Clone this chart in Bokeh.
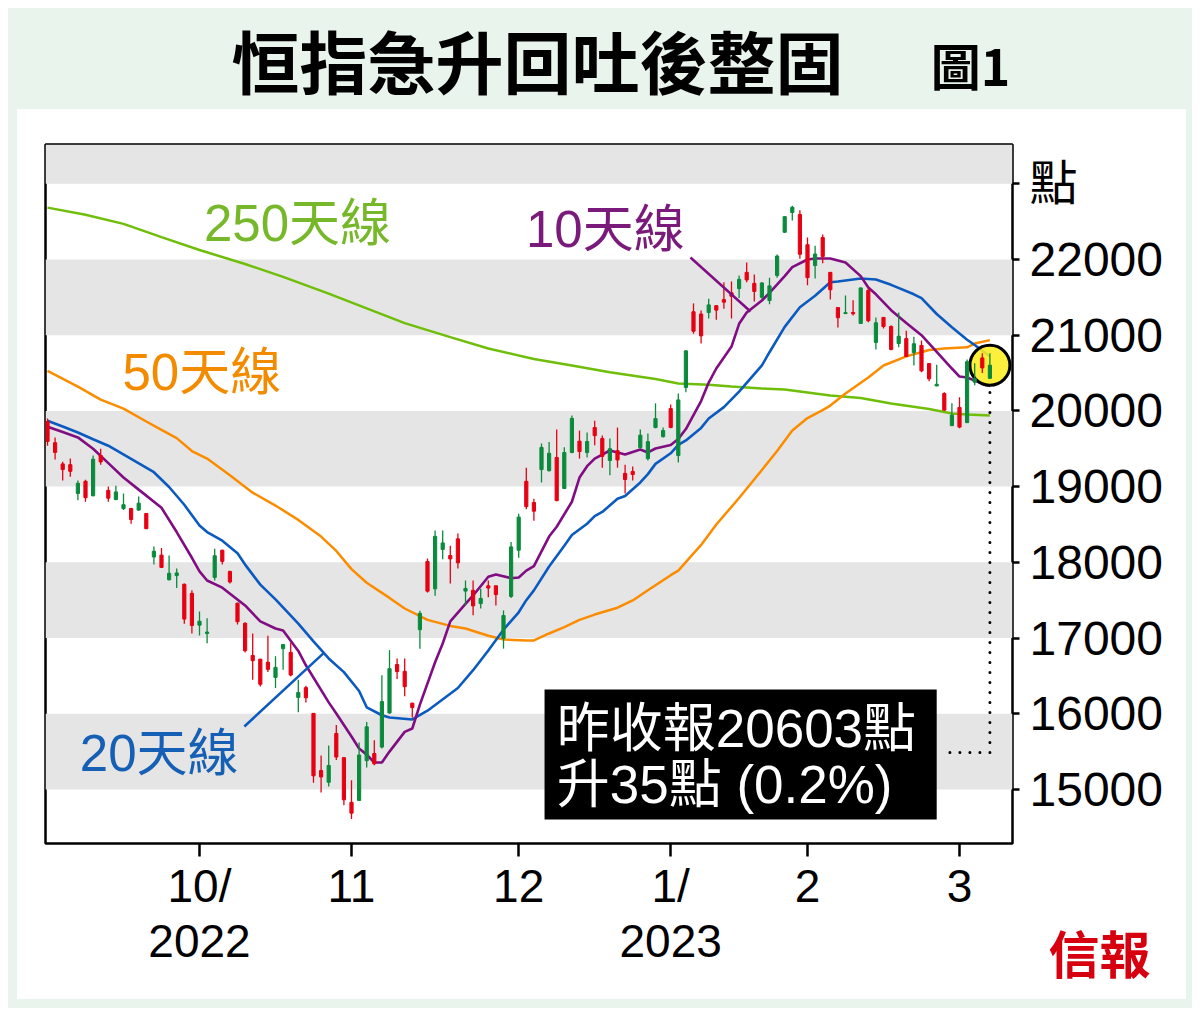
from bokeh.plotting import figure
from bokeh.models import (Range1d, FixedTicker, BoxAnnotation, Label, ColumnDataSource, Spacer)
from bokeh.layouts import column, row
from bokeh.embed import file_html
from bokeh.resources import INLINE
from bokeh.core.properties import value

# ---------------- data ----------------
# trading days (Hang Seng Index), Sep 2022 - Mar 2023
sep_days = [1, 2, 5, 6, 7, 8, 9, 13, 14, 15, 16, 19, 20, 21, 22, 23, 26, 27, 28, 29, 30]
oct_days = [3, 5, 6, 7, 10, 11, 12, 13, 14, 17, 18, 19, 20, 21, 24, 25, 26, 27, 28, 31]
nov_days = [1, 2, 3, 4, 7, 8, 9, 10, 11, 14, 15, 16, 17, 18, 21, 22, 23, 24, 25, 28, 29, 30]
dec_days = [1, 2, 5, 6, 7, 8, 9, 12, 13, 14, 15, 16, 19, 20, 21, 22, 23, 28, 29, 30]
jan_days = [3, 4, 5, 6, 9, 10, 11, 12, 13, 16, 17, 18, 19, 20, 26, 27, 30, 31]
feb_days = [1, 2, 3, 6, 7, 8, 9, 10, 13, 14, 15, 16, 17, 20, 21, 22, 23, 24, 27, 28]
mar_days = [1, 2, 3, 6]
months = [sep_days, oct_days, nov_days, dec_days, jan_days, feb_days, mar_days]
month_labels = ["10/", "11", "12", "1/", "2", "3"]
year_labels = ["2022", "", "", "2023", "", ""]

opens = [19860, 19580, 19300, 19290, 18910, 19070, 18880, 19410, 18950, 18830, 18710, 18710, 18690, 18645,
         18070, 18095, 17770, 17825, 17710, 17590, 17170,
         17060, 17800, 18160, 17880, 17460, 17195, 16770, 16720, 16680, 16480, 16860, 16810, 16215, 16345,
         16005, 15250, 15095, 15740, 15420, 14830,
         14855, 15380, 15475, 15560, 16010, 16650, 16560, 16140, 17110, 18010, 17650, 18170, 18090, 18310,
         17620, 17630, 17455, 17690, 17690, 16995, 17550, 18160,
         19070, 18790, 19225, 19210, 19385, 18975, 19450, 19600, 19450, 19780, 19635, 19345, 19475, 19175,
         19200, 19515, 19370, 19780, 19660, 20030,
         19410, 20310, 21310, 21280, 21300, 21390, 21470, 21560, 21615, 21830, 21685, 21500, 21458, 21790,
         22360, 22620, 22595, 22195,
         21920, 22290, 21830, 21365, 21285, 21300, 21155, 21590, 20905, 21235, 21115, 20890, 20955, 20770,
         20865, 20625, 20330, 20230, 19805, 20045,
         19845, 20380, 20700, 20430]
highs = [19900, 19650, 19330, 19370, 19080, 19090, 19410, 19500, 19000, 19010, 18910, 18720, 18870, 18650,
         18210, 18190, 18090, 17920, 17720, 17630, 17350,
         17260, 18180, 18165, 17890, 17470, 17210, 17060, 16725, 17030, 16760, 16915, 16940, 16450, 16370,
         16010, 15450, 15580, 15850, 15425, 15120,
         15620, 15890, 15650, 16510, 16840, 16730, 16730, 16145, 17360, 18050, 18420, 18420, 18220, 18380,
         17760, 17760, 17650, 17760, 17695, 17364, 18270, 18640,
         19250, 18840, 19570, 19590, 19755, 19520, 19940, 19740, 19715, 19870, 19675, 19635, 19780, 19290,
         19265, 19755, 19700, 20100, 19780, 20085,
         20230, 20800, 21420, 21325, 21480, 21395, 21700, 21710, 21790, 21960, 21800, 21700, 21760, 22065,
         22570, 22710, 22650, 22290,
         22180, 22330, 21835, 21370, 21525, 21460, 21630, 21630, 21235, 21240, 21130, 21300, 21060, 20980,
         20930, 20630, 20610, 20245, 20100, 20180,
         20680, 20630, 20760, 20760]
lows = [19540, 19358, 19080, 19130, 18820, 18800, 18870, 19290, 18800, 18820, 18690, 18510, 18680, 18440,
        17970, 17925, 17760, 17660, 17190, 17060, 17035,
        16930, 17760, 17970, 17720, 17180, 16810, 16450, 16360, 16550, 16340, 16580, 16495, 16020, 16150,
        15090, 14960, 15040, 15390, 14790, 14610,
        14850, 15290, 15320, 15540, 16000, 16460, 16230, 15950, 16860, 17600, 17560, 18040, 17720, 17920,
        17430, 17300, 17390, 17540, 17430, 16860, 17530, 18060,
        18700, 18550, 19055, 19200, 18805, 18970, 19440, 19370, 19385, 19545, 19250, 19150, 19250, 18910,
        19080, 19500, 19345, 19770, 19650, 19770,
        19320, 20245, 21020, 20890, 21220, 21205, 21350, 21220, 21490, 21700, 21445, 21480, 21410, 21760,
        22350, 22515, 22010, 21660,
        21750, 21950, 21470, 21100, 21280, 21260, 21150, 21170, 20810, 21090, 20800, 20840, 20715, 20600,
        20510, 20390, 20325, 20005, 19800, 19770,
        19840, 20340, 20500, 20420]
closes = [19597, 19452, 19225, 19202, 19044, 18854, 19362, 19326, 18847, 18930, 18761, 18565, 18781, 18444,
          18147, 17933, 17855, 17860, 17250, 17165, 17222,
          17079, 18087, 18012, 17740, 17216, 16832, 16701, 16389, 16587, 16612, 16914, 16511, 16280, 16211,
          15180, 15165, 15317, 15428, 14863, 14687,
          15455, 15827, 15339, 16161, 16595, 16557, 16358, 16081, 17326, 17619, 18343, 18256, 18045, 17993,
          17655, 17424, 17523, 17660, 17573, 17297, 18204, 18597,
          18736, 18675, 19518, 19441, 18815, 19450, 19901, 19463, 19596, 19673, 19400, 19500, 19352, 19094,
          19160, 19679, 19593, 19898, 19741, 19781,
          20145, 20793, 21052, 20991, 21400, 21331, 21436, 21514, 21738, 21730, 21578, 21690, 21651, 22045,
          22566, 22689, 22069, 21760,
          22072, 22040, 21600, 21230, 21298, 21283, 21624, 21190, 21164, 21114, 20812, 20987, 20719, 20887,
          20529, 20424, 20351, 20010, 19944, 19786,
          20650, 20429, 20568, 20603]

# moving averages (trading-day index, value)
ma10_idx = [0, 2, 4, 6, 8, 10, 12, 15, 17, 19, 20, 21, 23, 26, 28, 30, 31, 33, 34, 37, 38, 40, 41, 42, 43, 44,
            45, 47, 48, 49, 51, 52, 53, 55, 56, 58, 59, 61, 62, 63, 64, 66, 67, 69, 70, 71, 72, 74, 76, 78, 79,
            80, 82, 83, 84, 86, 87, 88, 90, 91, 92, 94, 95, 97, 98, 100, 101, 103, 105, 107, 108, 109, 111, 113,
            115, 117, 119, 120, 121, 123, 124]
ma10_val = [19790, 19720, 19650, 19500, 19310, 19120, 18960, 18720, 18400, 18060, 17880, 17760, 17665, 17430,
            17220, 17126, 17100, 16830, 16640, 16150, 16004, 15700, 15541, 15460, 15356, 15356, 15500, 15760,
            15805, 16120, 16680, 16928, 17220, 17450, 17562, 17810, 17839, 17790, 17800, 17890, 17950, 18340,
            18470, 18800, 19120, 19270, 19370, 19477, 19424, 19490, 19451, 19503, 19550, 19630, 19760, 20130,
            20375, 20560, 20850, 21150, 21300, 21458, 21560, 21780, 21900, 22000, 22013, 22013, 21960, 21780,
            21630, 21540, 21330, 21160, 21000, 20780, 20560, 20454, 20441, 20360, 20330]
ma20_idx = [0, 2, 4, 6, 8, 11, 14, 16, 18, 20, 21, 23, 25, 26, 28, 30, 33, 35, 37, 39, 41, 42, 44, 45, 48, 50,
            54, 56, 58, 60, 62, 63, 64, 66, 68, 69, 71, 72, 73, 75, 76, 78, 79, 80, 82, 83, 84, 86, 87, 89, 91,
            94, 95, 97, 99, 101, 103, 104, 107, 109, 111, 114, 115, 117, 119, 121, 122, 124]
ma20_val = [19870, 19795, 19715, 19625, 19540, 19365, 19190, 18995, 18760, 18485, 18400, 18285, 18120, 17970,
            17705, 17510, 17190, 16955, 16730, 16550, 16300, 16085, 15980, 15950, 15924, 16040, 16340, 16575,
            16836, 17110, 17340, 17500, 17630, 17945, 18220, 18360, 18510, 18610, 18665, 18840, 18875, 19055,
            19165, 19300, 19440, 19550, 19610, 19775, 19900, 20050, 20255, 20600, 20775, 21110, 21370, 21520,
            21700, 21709, 21748, 21735, 21665, 21540, 21490, 21280, 21105, 20940, 20870, 20720]
ma50_idx = [0, 4, 7, 10, 13, 15, 17, 19, 21, 24, 27, 30, 33, 36, 38, 40, 42, 45, 47, 50, 53, 55, 58, 60, 63,
            64, 66, 68, 70, 72, 75, 77, 79, 82, 83, 86, 88, 91, 94, 96, 98, 100, 102, 103, 105, 108, 110, 113,
            116, 118, 121, 122, 124]
ma50_val = [20530, 20320, 20150, 20030, 19860, 19750, 19640, 19470, 19370, 19150, 18920, 18750, 18560, 18340,
            18150, 17910, 17730, 17530, 17390, 17240, 17160, 17126, 17030, 16980, 16968, 16968, 17060, 17145,
            17240, 17310, 17400, 17496, 17630, 17830, 17890, 18230, 18500, 18850, 19220, 19470, 19741, 19905,
            20010, 20070, 20230, 20440, 20600, 20720, 20805, 20824, 20840, 20890, 20935]
ma250_idx = [0, 5, 10, 15, 20, 26, 31, 37, 42, 47, 53, 58, 64, 69, 74, 80, 83, 87, 90, 94, 97, 100, 103, 107,
             111, 116, 119, 121, 124]
ma250_val = [22685, 22590, 22470, 22295, 22125, 21940, 21770, 21550, 21355, 21160, 20975, 20825, 20685, 20600,
             20510, 20420, 20362, 20345, 20322, 20295, 20283, 20243, 20203, 20170, 20098, 20025, 19966, 19952,
             19939]

y_ticks = [15000, 16000, 17000, 18000, 19000, 20000, 21000, 22000, 23000]
y_unit_label = "點"
grey_bands = [(15000, 16000), (17000, 18000), (19000, 20000), (21000, 22000), (23000, None)]

title_text = "恒指急升回吐後整固"
fig_text = "圖1"
box_lines = ["昨收報20603點", "升35點 (0.2%)"]
logo_text = "信報"

# ---------------- styling ----------------
GREEN_BG = "#e9f4ec"
UP = "#0a8a3c"
DOWN = "#e60012"
C10, C20, C50, C250 = "#800d82", "#0b5ac0", "#fb8c00", "#6fbe0a"
LBL_FONT = "Liberation Sans, Noto Sans CJK TC"
CJK_FONT = "Noto Sans CJK TC"

n = len(closes)
idx = list(range(n))
tick_idx = []
pos = -1
for m in months[:-1]:
    pos += len(m)
    tick_idx.append(pos)

PX = 7.6                      # pixels per trading day
X0 = 47                       # page x of the first candle
x_range = Range1d((45 - X0) / PX, (1012 - X0) / PX)
PPT = 0.07571                 # pixels per index point
y_end = 20000 + 266.4 / PPT
y_start = y_end - 699 / PPT

# ---------------- title strip ----------------
tf = figure(width=1184, height=101, x_range=Range1d(0, 1184), y_range=Range1d(0, 101),
            x_axis_location=None, y_axis_location=None, toolbar_location=None,
            output_backend="svg", min_border=0)
tf.grid.visible = False
tf.outline_line_color = None
tf.background_fill_color = GREEN_BG
tf.border_fill_color = GREEN_BG
tf.add_layout(Label(x=529, y=50, text=title_text, text_font=CJK_FONT, text_font_style="bold",
                    text_font_size="68px", text_align="center", text_baseline="middle", text_color="black"))
tf.add_layout(Label(x=962, y=46, text=fig_text, text_font=CJK_FONT, text_font_style="bold",
                    text_font_size="50px", text_align="center", text_baseline="middle", text_color="black"))

# ---------------- main chart ----------------
p = figure(width=1169, height=805, x_range=x_range, y_range=Range1d(y_start, y_end),
           x_axis_location="below", y_axis_location="right", toolbar_location=None,
           output_backend="svg", min_border_left=28, min_border_right=174,
           min_border_top=35, min_border_bottom=71)
p.grid.visible = False
p.background_fill_color = "white"
p.border_fill_color = "white"
p.outline_line_color = "black"
p.outline_line_width = 2.5

for lo, hi in grey_bands:
    p.add_layout(BoxAnnotation(bottom=lo, top=hi, fill_color="#e5e5e5", fill_alpha=1,
                               line_color=None, level="underlay"))

# axes
ya = p.yaxis[0]
ya.ticker = FixedTicker(ticks=y_ticks)
ya.major_label_overrides = {t: (y_unit_label if t == y_ticks[-1] else str(t)) for t in y_ticks}
xa = p.xaxis[0]
xa.ticker = FixedTicker(ticks=tick_idx)
xa.major_label_overrides = {t: lab for t, lab in zip(tick_idx, month_labels)}
for ax in (xa, ya):
    ax.axis_line_color = None
    ax.minor_tick_line_color = None
    ax.major_tick_in = 0
    ax.major_tick_line_color = "black"
    ax.major_tick_line_width = 2.5
    ax.major_label_text_font = LBL_FONT
    ax.major_label_text_color = "black"
    ax.major_label_text_line_height = 1.0
ya.major_label_text_font_size = "48px"
ya.major_tick_out = 7
ya.major_label_standoff = 10
xa.major_label_text_font_size = "46px"
xa.major_tick_out = 13
xa.major_label_standoff = 3

# moving averages
p.line(ma250_idx, ma250_val, line_color=C250, line_width=2.5)
p.line(ma50_idx, ma50_val, line_color=C50, line_width=2.5)
p.line(ma20_idx, ma20_val, line_color=C20, line_width=2.6)
p.line(ma10_idx, ma10_val, line_color=C10, line_width=2.6)

# yellow marker on last close (slightly see-through, candles drawn on top)
p.scatter(x=[idx[-1]], y=[closes[-1]], size=40, fill_color="#fcee21", fill_alpha=0.88,
          line_color="black", line_width=3)

# candlesticks
colors = [UP if c >= o else DOWN for o, c in zip(opens, closes)]
src = ColumnDataSource(dict(x=idx, o=opens, h=highs, l=lows, c=closes,
                            top=[max(o, c) for o, c in zip(opens, closes)],
                            bottom=[min(o, c) for o, c in zip(opens, closes)],
                            color=colors))
p.segment(x0="x", y0="l", x1="x", y1="h", line_color="color", line_width=1.3, source=src)
p.vbar(x="x", width=0.42, top="top", bottom="bottom", fill_color="color", line_color="color",
       line_width=1, source=src)

# MA labels and leader lines
for tx, lx, ly, col in [("250天線", 32.9, 22470, "#77b82a"), ("10天線", 73.4, 22390, "#7a1a7a"),
                        ("50天線", 20.3, 20510, "#f38b00"), ("20天線", 14.7, 15480, "#155fb4")]:
    p.add_layout(Label(x=lx, y=ly, text=tx, text_font=LBL_FONT, text_font_size="51px",
                       text_color=col, text_align="center", text_baseline="middle"))
p.line([84.6, 92.5], [22026, 21313], line_color=C10, line_width=2.5)
p.line([25.9, 36.3], [15832, 16797], line_color=C20, line_width=2.5)

# dotted guide from the marker to the box
p.line([idx[-1], idx[-1], 117.5], [20243, 15488, 15488], line_color="black", line_width=3,
       line_dash="0 10", line_cap="round")

# close box
p.add_layout(BoxAnnotation(left=65.4, right=117.0, bottom=14603, top=16320, fill_color="black",
                           fill_alpha=1, line_color=None))
p.add_layout(Label(x=67.0, y=15805, text=box_lines[0], text_font=LBL_FONT, text_font_size="53px",
                   text_color="white", text_align="left", text_baseline="middle"))
p.add_layout(Label(x=67.0, y=15059, text=box_lines[1], text_font=LBL_FONT, text_font_size="53px",
                   text_color="white", text_align="left", text_baseline="middle"))

# ---------------- year labels + logo strip (same x scale, frame aligned with the chart) ----------------
lf = figure(width=1169, height=85, x_range=x_range, y_range=Range1d(0, 85),
            x_axis_location=None, y_axis_location="right", toolbar_location=None,
            output_backend="svg", min_border_left=28, min_border_right=174,
            min_border_top=0, min_border_bottom=0)
lf.grid.visible = False
lf.outline_line_color = None
lf.background_fill_color = "white"
lf.border_fill_color = "white"
yr_x = [t for t, y in zip(tick_idx, year_labels) if y]
yr_t = [y for y in year_labels if y]
lf.text(x=yr_x, y=[59] * len(yr_x), text=yr_t, text_font=value("Liberation Sans"),
        text_font_size="46px", text_align="center", text_baseline="middle", text_color="black")
la = lf.yaxis[0]
la.ticker = FixedTicker(ticks=[48])
la.major_label_overrides = {48: logo_text}
la.axis_line_color = None
la.major_tick_line_color = None
la.minor_tick_line_color = None
la.major_tick_in = 0
la.major_tick_out = 0
la.major_label_standoff = 36
la.major_label_text_font = CJK_FONT
la.major_label_text_font_style = "bold"
la.major_label_text_font_size = "51px"
la.major_label_text_color = "#d7000f"

panel = column(p, lf, styles={"background-color": "white"})
body = row(Spacer(width=9, height=890), panel, Spacer(width=6, height=890))
inner = column(tf, body, Spacer(width=1184, height=9), styles={"background-color": GREEN_BG})
root = column(Spacer(width=1192, height=8), row(Spacer(width=8, height=1000), inner))

open("out.html", "w").write(file_html(root, INLINE))
